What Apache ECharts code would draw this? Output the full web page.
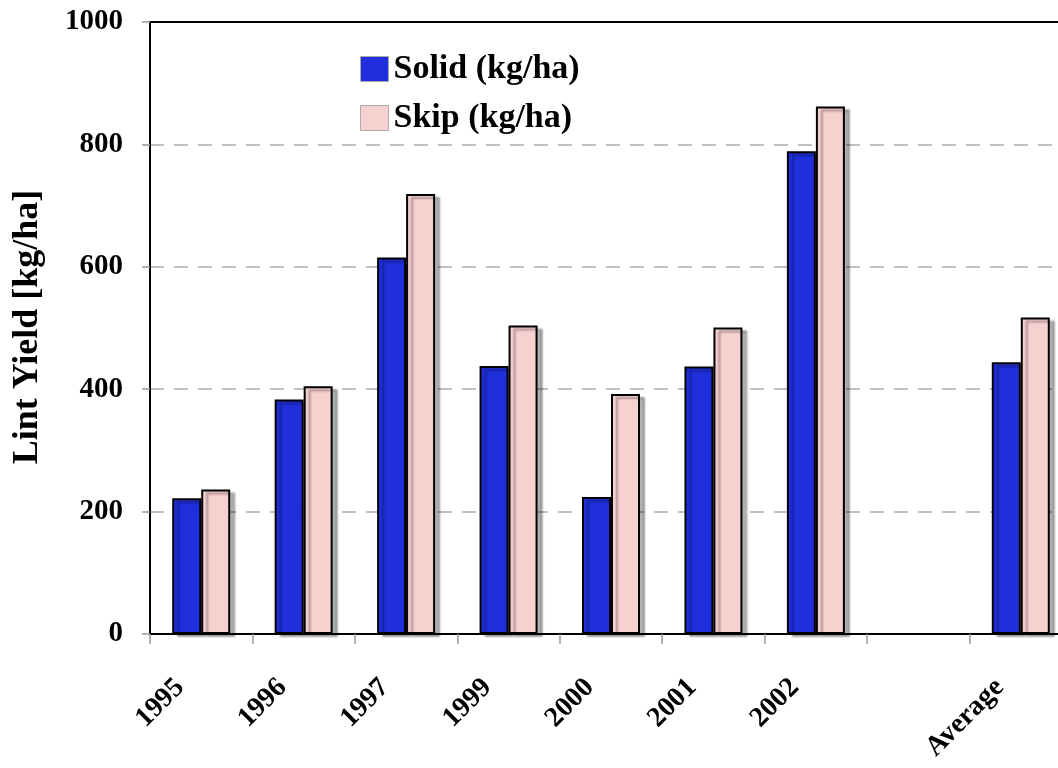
<!DOCTYPE html>
<html>
<head>
<meta charset="utf-8">
<script src="https://cdn.jsdelivr.net/npm/echarts@6/dist/echarts.min.js"></script>
<style>
  html, body { margin: 0; padding: 0; overflow: hidden; background: #fff; }
  #chart { width: 1072px; height: 768px; }
</style>
</head>
<body>
<div id="chart"></div>
<script>
// categories and values
var years = ["1995", "1996", "1997", "1999", "2000", "2001", "2002", "", "Average"];
var solidYield = [222, 383, 615, 438, 224, 437, 789, null, 444];
var skipYield = [236, 405, 719, 504, 392, 501, 862, null, 517];
var yTicks = [0, 200, 400, 600, 800, 1000];

var font = "'Liberation Serif', 'Times New Roman', serif";

var myChart = echarts.init(document.getElementById("chart"));

myChart.setOption({
  animation: false,
  backgroundColor: "#fff",
  grid: {
    left: 150,
    top: 22,
    right: 0,
    bottom: 134,
    show: true,
    borderColor: "#000",
    borderWidth: 2
  },
  legend: {
    orient: "vertical",
    left: 355,
    top: 47,
    icon: "rect",
    itemWidth: 28,
    itemHeight: 25,
    itemGap: 15,
    data: ["Solid (kg/ha)", "Skip (kg/ha)"],
    itemStyle: {
      borderColor: "#aaa",
      borderWidth: 1,
      shadowBlur: 0,
      shadowOffsetX: 0,
      shadowOffsetY: 0
    },
    textStyle: {
      fontFamily: font,
      fontWeight: "bold",
      fontSize: 34,
      color: "#000"
    }
  },
  graphic: [
    {
      type: "text",
      x: 28,
      y: 327,
      rotation: Math.PI / 2,
      style: {
        text: "Lint Yield [kg/ha]",
        font: "bold 36px " + font,
        fill: "#000",
        align: "center",
        verticalAlign: "middle"
      }
    }
  ],
  xAxis: {
    type: "category",
    data: years,
    axisLine: { lineStyle: { color: "#000", width: 2 } },
    axisTick: {
      show: true,
      length: 10,
      lineStyle: { color: "#999", width: 1.5 }
    },
    axisLabel: {
      rotate: 45,
      margin: 28,
      padding: [0, 30, 0, 0],
      fontFamily: font,
      fontWeight: "bold",
      fontSize: 28,
      color: "#000",
      interval: 0
    }
  },
  yAxis: {
    type: "value",
    min: yTicks[0],
    max: yTicks[yTicks.length - 1],
    interval: 200,
    axisLine: { show: true, lineStyle: { color: "#000", width: 2 } },
    axisTick: {
      show: true,
      length: 8,
      lineStyle: { color: "#999", width: 1.5 }
    },
    axisLabel: {
      margin: 27,
      fontFamily: font,
      fontWeight: "bold",
      fontSize: 29,
      color: "#000",
      formatter: function (v) { return String(v); }
    },
    splitLine: {
      show: true,
      showMinLine: false,
      showMaxLine: false,
      lineStyle: { color: "#aaa", width: 1.5, type: [14, 10] }
    }
  },
  series: [
    {
      name: "Solid (kg/ha)",
      type: "bar",
      data: solidYield,
      barWidth: 29,
      barGap: "0%",
      itemStyle: {
        color: "#1f2fdc",
        borderColor: "#000",
        borderWidth: 2,
        shadowColor: "rgba(0,0,0,0.3)",
        shadowBlur: 2,
        shadowOffsetX: 5,
        shadowOffsetY: 3
      }
    },
    {
      name: "Skip (kg/ha)",
      type: "bar",
      data: skipYield,
      barWidth: 29,
      barGap: "0%",
      itemStyle: {
        color: "#f7d0d0",
        borderColor: "#000",
        borderWidth: 2,
        shadowColor: "rgba(0,0,0,0.3)",
        shadowBlur: 2,
        shadowOffsetX: 5,
        shadowOffsetY: 3
      }
    }
  ]
});
</script>
</body>
</html>
